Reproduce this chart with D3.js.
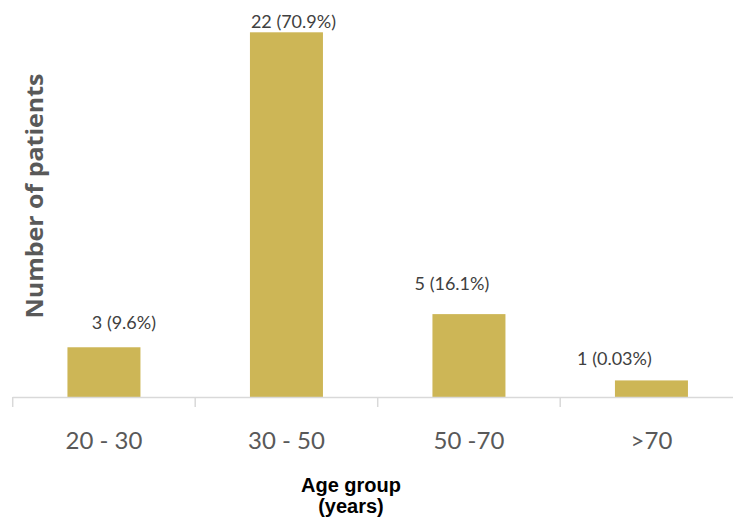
<!DOCTYPE html>
<html>
<head>
<meta charset="utf-8">
<script src="https://cdn.jsdelivr.net/npm/d3@7"></script>
<style>
  html, body { margin: 0; padding: 0; background: #fff; }
</style>
</head>
<body>
<div id="chart"></div>
<script>
// data
const age_groups = ['20 - 30', '30 - 50', '50 -70', '>70'];
const patients = [3, 22, 5, 1];
const percent_labels = ['9.6%', '70.9%', '16.1%', '0.03%'];

// hand placed label nudges, as in the source figure
const label_dx = [20, 7, -17, -37];
const label_gap = [18, 4, 24, 15];

const width = 733, height = 521;
const axis_y = 397;

const svg = d3.select('#chart')
    .append('svg')
    .attr('width', width)
    .attr('height', height);

const x = d3.scaleBand()
    .domain(age_groups)
    .range([12.7, 742.7]);

const y = d3.scaleLinear()
    .domain([0, 22])
    .range([axis_y, 32.3]);

const bar_w = x.bandwidth() * 0.4;

svg.selectAll('rect.bar')
    .data(age_groups)
    .enter()
    .append('rect')
    .attr('class', 'bar')
    .attr('x', d => x(d) + x.bandwidth() / 2 - bar_w / 2)
    .attr('y', (d, i) => y(patients[i]))
    .attr('width', bar_w)
    .attr('height', (d, i) => axis_y - y(patients[i]))
    .attr('fill', '#cdb656');

// x axis line + ticks at band edges
svg.append('line')
    .attr('x1', x.range()[0])
    .attr('x2', width)
    .attr('y1', axis_y + 0.5)
    .attr('y2', axis_y + 0.5)
    .attr('stroke', '#d9d9d9')
    .attr('stroke-width', 1.5);

svg.selectAll('line.tick')
    .data(age_groups)
    .enter()
    .append('line')
    .attr('class', 'tick')
    .attr('x1', d => x(d))
    .attr('x2', d => x(d))
    .attr('y1', axis_y)
    .attr('y2', axis_y + 10)
    .attr('stroke', '#d9d9d9')
    .attr('stroke-width', 1.5);

svg.selectAll('text.cat')
    .data(age_groups)
    .enter()
    .append('text')
    .attr('class', 'cat')
    .attr('x', d => x(d) + x.bandwidth() / 2)
    .attr('y', 449)
    .attr('text-anchor', 'middle')
    .attr('font-family', 'Lato, sans-serif')
    .attr('font-size', '24px')
    .attr('fill', '#595959')
    .text(d => d);

// value labels
svg.selectAll('text.val')
    .data(age_groups)
    .enter()
    .append('text')
    .attr('class', 'val')
    .attr('x', (d, i) => x(d) + x.bandwidth() / 2 + label_dx[i])
    .attr('y', (d, i) => y(patients[i]) - label_gap[i])
    .attr('text-anchor', 'middle')
    .attr('font-family', 'Lato, sans-serif')
    .attr('font-size', '18px')
    .attr('fill', '#404040')
    .text((d, i) => patients[i] + ' (' + percent_labels[i] + ')');

// axis titles
svg.append('text')
    .attr('transform', 'translate(43,196) rotate(-90)')
    .attr('text-anchor', 'middle')
    .attr('font-family', '"Open Sans", sans-serif')
    .attr('font-weight', 'bold')
    .attr('font-size', '23px')
    .attr('textLength', 245)
    .attr('lengthAdjust', 'spacingAndGlyphs')
    .attr('fill', '#595959')
    .text('Number of patients');

const xt = svg.append('text')
    .attr('text-anchor', 'middle')
    .attr('font-family', '"Liberation Sans Narrow", "Liberation Sans", Arial, sans-serif')
    .attr('font-weight', 'bold')
    .attr('font-size', '20px')
    .attr('fill', '#000');
xt.append('tspan').attr('x', 351).attr('y', 492).text('Age group');
xt.append('tspan').attr('x', 351).attr('y', 513).text('(years)');
</script>
</body>
</html>
